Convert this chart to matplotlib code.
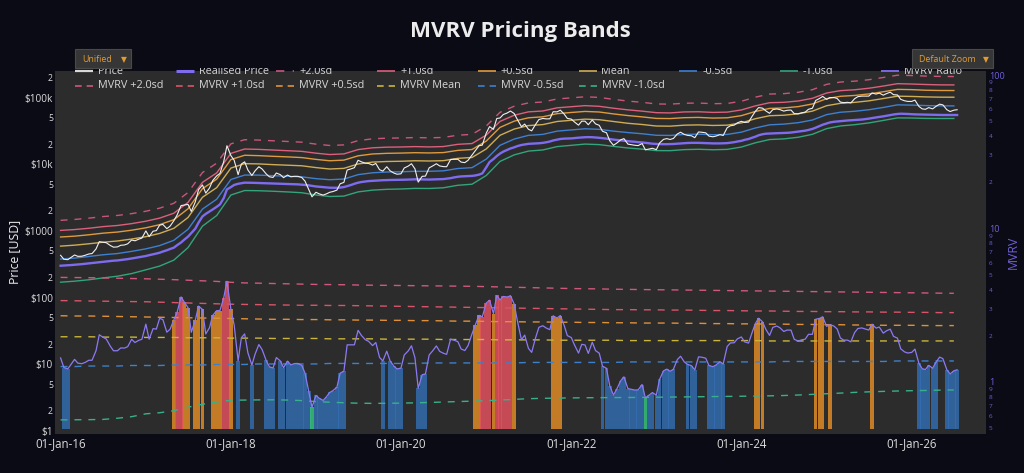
import numpy as np
import pandas as pd
import matplotlib
matplotlib.use('Agg')
import matplotlib.pyplot as plt
import matplotlib.dates as mdates
from matplotlib.ticker import NullLocator
from matplotlib.patches import Rectangle

plt.rcParams['font.family'] = ['Open Sans', 'DejaVu Sans']

# ---------------- data ----------------
# semi-monthly samples (1st and 15th of each month)
dates = pd.date_range('2016-01-01', '2026-07-15', freq='SMS')

price = [
    430, 375, 370, 400, 435, 415, 417, 430, 450, 457, 535, 690, 675, 665, 605, 570, 575, 608, 615, 640, 730, 710, 750, 780,
    1000, 820, 990, 1010, 1220, 1250, 1080, 1180, 1420, 1730, 2400, 2450, 2500, 1960, 2720, 4150, 4900, 3700, 4400, 5700, 6700, 7300, 10900, 19000,
    13500, 11500, 7000, 10100, 10900, 8200, 6800, 8000, 9200, 8500, 7200, 6500, 6350, 7400, 7000, 6300, 6900, 6500, 6600, 6600, 6350, 5600, 4200, 3250,
    3800, 3600, 3450, 3600, 3800, 3900, 4100, 5100, 5350, 8200, 8550, 8900, 11500, 10900, 10400, 10300, 9750, 10300, 8300, 7900, 9200, 8000, 7400, 7100,
    7200, 8800, 9400, 10200, 8550, 5400, 6600, 6650, 8850, 9400, 10200, 9450, 9230, 9200, 11800, 11900, 11900, 10800, 10600, 11500, 13800, 16000, 19000, 19400,
    29400, 36800, 33500, 48700, 49600, 55900, 59000, 63100, 57800, 46700, 36700, 40200, 33600, 31800, 39900, 47000, 48800, 48100, 48200, 61500, 61300, 65000, 57000, 48900,
    47700, 43100, 38700, 44500, 44400, 39300, 46300, 40500, 38500, 31300, 29800, 22600, 19300, 20800, 23300, 24300, 20100, 19700, 19300, 19100, 20500, 16500, 17000, 17400,
    16600, 20900, 23700, 24300, 23600, 24400, 28500, 30300, 28100, 27200, 26800, 25100, 30600, 30300, 29700, 26500, 25900, 26600, 27900, 27100, 35400, 37900, 38700, 42000,
    44200, 42500, 43000, 51900, 62400, 71000, 69700, 63400, 58300, 66200, 67800, 66200, 62900, 64700, 65300, 57600, 57300, 59200, 60800, 67000, 69500, 91000, 97200, 104500,
    94400, 100500, 100600, 97500, 86000, 84300, 85200, 83600, 96500, 103700, 105700, 105600, 105700, 117800, 113300, 117400, 109200, 115300, 121000, 111000, 110000, 94500, 90000, 88000,
    88000, 92000, 74000, 68000, 67000, 71000, 68000, 74000, 80000, 78000, 66000, 62000, 65000, 66000,
]

realised = [
    300, 302, 304, 307, 310, 313, 317, 321, 325, 330, 335, 340, 345, 349, 353, 357, 360, 365, 370, 377, 385, 393, 402, 411,
    420, 432, 445, 457, 470, 490, 512, 535, 560, 610, 670, 740, 820, 930, 1080, 1330, 1650, 1800, 1950, 2100, 2300, 2500, 3100, 4200,
    4550, 4900, 5100, 5200, 5300, 5300, 5280, 5260, 5250, 5230, 5200, 5180, 5150, 5130, 5110, 5090, 5050, 5030, 5010, 5000, 4950, 4900, 4830, 4750,
    4650, 4600, 4550, 4500, 4450, 4440, 4440, 4470, 4550, 4700, 4900, 5100, 5300, 5420, 5520, 5600, 5650, 5700, 5740, 5770, 5800, 5820, 5830, 5840,
    5850, 5870, 5900, 5930, 5950, 5940, 5920, 5900, 5900, 5920, 5940, 5970, 6000, 6080, 6200, 6350, 6500, 6580, 6620, 6660, 6700, 6800, 7000, 7300,
    9000, 10800, 12000, 13300, 14500, 15500, 16500, 17300, 18000, 18800, 19500, 19900, 20300, 20400, 20500, 20700, 21000, 21400, 22000, 22800, 23500, 24000, 24300, 24400,
    24500, 24800, 25100, 25300, 25500, 25600, 25500, 25300, 25000, 24700, 24300, 23900, 23500, 23200, 22900, 22500, 22200, 22000, 21800, 21500, 21300, 21000, 20700, 20400,
    20200, 20100, 20050, 20050, 20100, 20200, 20400, 20600, 20800, 20900, 21000, 21000, 21000, 20900, 20800, 20700, 20600, 20600, 20600, 20700, 20800, 21100, 21500, 22000,
    22500, 23300, 24000, 25000, 26000, 27300, 28300, 28800, 29000, 29200, 29300, 29400, 29500, 29700, 30000, 30400, 31000, 31500, 32000, 32800, 34000, 35500, 37500, 39300,
    41000, 42500, 43500, 44000, 44500, 45000, 45500, 45800, 46000, 46500, 47000, 47700, 48500, 49500, 50500, 51500, 52500, 53500, 54800, 56000, 57000, 57500, 57300, 57000,
    56500, 56200, 56000, 55800, 55600, 55400, 55300, 55200, 55100, 55000, 55000, 55000, 55000, 55000,
]

# highlighted MVRV zone per sample: b = below -0.5sd, g = below -1.0sd, o = above +0.5sd, r = above +1.0sd
zones = ('.bb.....................'
         '........orroo.ooo..ooorr'
         'o.b...b...bbb.bbbbbbbbbg'
         'bbbbbbbbb..........b.bbb'
         'b....bbb.............oor'
         'rrorrrrro..........ooo..'
         '.........bbbbbbbbbbbbgbb'
         'bbbbbb...bbb...bbbbb....'
         '....ooo..............ooo'
         '.o...........o..........'
         '..bbbbbb..bbbb')

# MVRV band levels, every second month (Jan, Mar, May, Jul, Sep, Nov)
lvl_p20 = [4.80, 4.79, 4.78, 4.76, 4.74, 4.72, 4.70, 4.67, 4.64, 4.60, 4.56, 4.52,
           4.46, 4.42, 4.40, 4.38, 4.36, 4.34, 4.32, 4.31, 4.30, 4.28, 4.27, 4.26,
           4.25, 4.24, 4.23, 4.22, 4.21, 4.20, 4.18, 4.16, 4.14, 4.12, 4.10, 4.08,
           4.06, 4.05, 4.04, 4.02, 4.01, 4.00, 3.99, 3.98, 3.97, 3.96, 3.95, 3.94,
           3.93, 3.92, 3.91, 3.90, 3.89, 3.88, 3.87, 3.86, 3.85, 3.84, 3.83, 3.82,
           3.81, 3.80, 3.79, 3.78]
lvl_p10 = [3.39, 3.38, 3.37, 3.36, 3.35, 3.34, 3.33, 3.31, 3.29, 3.27, 3.25, 3.23,
           3.21, 3.20, 3.19, 3.18, 3.17, 3.16, 3.16, 3.15, 3.15, 3.14, 3.13, 3.12,
           3.11, 3.10, 3.09, 3.08, 3.07, 3.06, 3.05, 3.04, 3.03, 3.02, 3.01, 3.00,
           2.99, 2.98, 2.97, 2.96, 2.96, 2.95, 2.95, 2.94, 2.94, 2.93, 2.92, 2.92,
           2.91, 2.90, 2.90, 2.89, 2.88, 2.88, 2.87, 2.87, 2.86, 2.86, 2.85, 2.85,
           2.84, 2.84, 2.83, 2.83]
lvl_p05 = [2.70, 2.69, 2.69, 2.68, 2.67, 2.66, 2.65, 2.64, 2.63, 2.62, 2.61, 2.60,
           2.59, 2.58, 2.57, 2.56, 2.56, 2.55, 2.55, 2.54, 2.54, 2.53, 2.53, 2.52,
           2.52, 2.51, 2.51, 2.50, 2.49, 2.49, 2.48, 2.47, 2.47, 2.46, 2.46, 2.45,
           2.45, 2.44, 2.44, 2.43, 2.43, 2.42, 2.42, 2.42, 2.41, 2.41, 2.40, 2.40,
           2.39, 2.39, 2.38, 2.38, 2.37, 2.37, 2.36, 2.36, 2.35, 2.35, 2.34, 2.34,
           2.34, 2.33, 2.33, 2.33]
lvl_mean = [1.97, 1.97, 1.97, 1.96, 1.96, 1.96, 1.95, 1.95, 1.95, 1.94, 1.94, 1.94,
            1.93, 1.93, 1.93, 1.92, 1.92, 1.92, 1.92, 1.91, 1.91, 1.91, 1.91, 1.90,
            1.90, 1.90, 1.90, 1.89, 1.89, 1.89, 1.89, 1.88, 1.88, 1.88, 1.88, 1.87,
            1.87, 1.87, 1.87, 1.87, 1.86, 1.86, 1.86, 1.86, 1.86, 1.86, 1.86, 1.86,
            1.86, 1.86, 1.85, 1.85, 1.85, 1.85, 1.85, 1.85, 1.85, 1.85, 1.85, 1.85,
            1.85, 1.85, 1.85, 1.85]
lvl_m05 = [1.26, 1.26, 1.27, 1.27, 1.27, 1.28, 1.28, 1.28, 1.29, 1.29, 1.29, 1.30,
           1.30, 1.30, 1.31, 1.31, 1.31, 1.31, 1.31, 1.32, 1.32, 1.32, 1.32, 1.32,
           1.32, 1.32, 1.33, 1.33, 1.33, 1.33, 1.33, 1.33, 1.33, 1.34, 1.34, 1.34,
           1.34, 1.34, 1.34, 1.34, 1.35, 1.35, 1.35, 1.35, 1.35, 1.35, 1.35, 1.35,
           1.35, 1.35, 1.35, 1.36, 1.36, 1.36, 1.36, 1.36, 1.36, 1.36, 1.36, 1.37,
           1.37, 1.37, 1.37, 1.37]
lvl_m10 = [0.566, 0.567, 0.568, 0.570, 0.580, 0.594, 0.620, 0.630, 0.650, 0.685, 0.715, 0.740,
           0.760, 0.762, 0.764, 0.765, 0.762, 0.756, 0.745, 0.738, 0.732, 0.727, 0.725, 0.726,
           0.728, 0.731, 0.735, 0.740, 0.745, 0.750, 0.755, 0.762, 0.770, 0.778, 0.782, 0.785,
           0.787, 0.789, 0.790, 0.791, 0.792, 0.793, 0.795, 0.797, 0.799, 0.801, 0.803, 0.805,
           0.807, 0.809, 0.812, 0.816, 0.822, 0.830, 0.838, 0.846, 0.855, 0.862, 0.868, 0.873,
           0.877, 0.880, 0.884, 0.887]

left_ticks = [1, 2, 5, 10, 20, 50, 100, 200, 500, 1000, 2000, 5000, 1e4, 2e4, 5e4, 1e5, 2e5]
left_labels = ['$1', '2', '5', '$10', '2', '5', '$100', '2', '5', '$1000', '2', '5',
               '$10k', '2', '5', '$100k', '2']
right_ticks = [0.5, 0.6, 0.7, 0.8, 0.9, 1, 2, 3, 4, 5, 6, 7, 8, 9,
               10, 20, 30, 40, 50, 60, 70, 80, 90, 100]
right_labels = ['5', '6', '7', '8', '9', '1', '2', '3', '4', '5', '6', '7', '8', '9',
                '10', '2', '3', '4', '5', '6', '7', '8', '9', '100']

price = np.array(price, float)
realised = np.array(realised, float)
mvrv = price / realised
zones = np.array(list(zones))
assert len(price) == len(realised) == len(zones) == len(dates)
bdates = dates[::4]
breal = realised[::4]

# ---------------- style ----------------
BG = '#0b0b15'
PLOT_BG = '#2c2c2c'
TXT = '#dcdcdc'
PURPLE = '#7d6cf0'
AXIS_PURPLE = '#6e5fd8'

band_style = [
    ('+2.0sd', lvl_p20, '#c9557a', (0, (5, 5))),
    ('+1.0sd', lvl_p10, '#dc5f7c', '-'),
    ('+0.5sd', lvl_p05, '#e09a3e', '-'),
    ('Mean', lvl_mean, '#cfad55', '-'),
    ('-0.5sd', lvl_m05, '#3f7fd0', '-'),
    ('-1.0sd', lvl_m10, '#33a47c', '-'),
]
mvrv_style = [
    ('MVRV +2.0sd', lvl_p20, '#d0587c'),
    ('MVRV +1.0sd', lvl_p10, '#d9546a'),
    ('MVRV +0.5sd', lvl_p05, '#e0903a'),
    ('MVRV Mean', lvl_mean, '#c9b53c'),
    ('MVRV -0.5sd', lvl_m05, '#3d80cc'),
    ('MVRV -1.0sd', lvl_m10, '#38b08a'),
]
zone_colors = {'b': ('#336fb5', 0.8), 'g': ('#35c27a', 0.85),
               'o': ('#e08a26', 0.85), 'r': ('#e0505e', 0.85)}

fig = plt.figure(figsize=(10.24, 4.73), dpi=100)
fig.patch.set_facecolor(BG)

W, H = 1024.0, 473.0
x0, x1, ytop, ybot = 55, 986, 71, 434
ax = fig.add_axes([x0 / W, 1 - ybot / H, (x1 - x0) / W, (ybot - ytop) / H])
ax.set_facecolor(PLOT_BG)
ax.set_yscale('log')
ax.set_ylim(0.892, 251800)

# pricing bands (left axis)
for name, lvl, col, ls in band_style:
    ax.plot(bdates, breal * np.array(lvl), color=col, lw=1.0, ls=ls, zorder=2)
ax.plot(dates, realised, color=PURPLE, lw=1.7, zorder=3)
ax.plot(dates, price, color='#f0f0f0', lw=0.8, zorder=4)

# MVRV panel (right axis)
ax2 = ax.twinx()
ax2.set_yscale('log')
ax2.set_ylim(0.458, 106.2)
base = 0.49
for code, (col, a) in zone_colors.items():
    m = zones == code
    ax2.bar(dates[m], mvrv[m] - base, bottom=base, width=15.5, color=col,
            alpha=a, lw=0, zorder=1)
for name, lvl, col in mvrv_style:
    ax2.plot(bdates, lvl, color=col, lw=1.0, ls=(0, (5, 5)), zorder=2)
ax2.plot(dates, mvrv, color='#8c7af5', lw=0.9, zorder=4)

ax.set_xlim(pd.Timestamp('2015-12-08'), pd.Timestamp('2026-11-16'))
ax.xaxis.set_major_locator(mdates.YearLocator(2))
ax.xaxis.set_major_formatter(mdates.DateFormatter('%d-%b-%y'))

ax.set_yticks(left_ticks, left_labels)
ax2.set_yticks(right_ticks, right_labels)
for a in (ax, ax2):
    a.yaxis.set_minor_locator(NullLocator())
    for s in a.spines.values():
        s.set_visible(False)
ax.tick_params(axis='x', colors=TXT, labelsize=8.3, length=0, pad=2.5)
ax.tick_params(axis='y', colors=TXT, labelsize=7.2, length=0, pad=1.5)
ax2.tick_params(axis='y', colors=AXIS_PURPLE, labelsize=6.6, length=0, pad=2)
for t in ax.get_yticklabels():
    if not t.get_text().startswith('$'):
        t.set_fontsize(6.2)
for t in ax2.get_yticklabels():
    if t.get_text() not in ('1', '10', '100'):
        t.set_fontsize(4.6)

fig.text(15 / W, 1 - 252 / H, 'Price [USD]', rotation=90, ha='center', va='center',
         fontsize=8.8, color='#f0f0f0')
fig.text(1013 / W, 1 - 252 / H, 'MVRV', rotation=90, ha='center', va='center',
         fontsize=8.8, color=AXIS_PURPLE)

# overlay: legend, buttons, title (pixel coordinates)
ov = fig.add_axes([0, 0, 1, 1], zorder=10)
ov.set_xlim(0, W)
ov.set_ylim(H, 0)
ov.axis('off')
ov.patch.set_alpha(0)

row1 = [('Price', '#d8d8d8', '-', 1.6), ('Realised Price', PURPLE, '-', 2.2)]
row1 += [(n, c, ls, 1.2) for n, l, c, ls in band_style]
row1 += [('MVRV Ratio', '#7a68e0', '-', 1.4)]
row2 = [(n, c, (0, (4, 3)), 1.2) for n, l, c in mvrv_style]
for y, row in ((71.5, row1), (86, row2)):
    for i, (lab, col, ls, lw) in enumerate(row):
        lx = 75 + 100.7 * i
        ov.plot([lx, lx + 18], [y, y], color=col, lw=lw, ls=ls, zorder=2,
                solid_capstyle='butt')
        ov.text(lx + 23, y, lab, va='center', ha='left', fontsize=7.8,
                color='#d6d6d6', zorder=2)

# the top legend row is cut off by the page background
ov.add_patch(Rectangle((0, 0), W, 68.5, facecolor=BG, edgecolor='none', zorder=3))

for bx, bw, lab in ((75, 56, 'Unified'), (912, 81, 'Default Zoom')):
    ov.add_patch(Rectangle((bx, 49.5), bw, 19, facecolor='#363636',
                           edgecolor='#4a4a4a', lw=0.8, zorder=5))
    ov.text(bx + 7, 59, lab, va='center', ha='left', fontsize=6.4,
            color='#e39a2f', zorder=6)
    ov.text(bx + bw - 7, 59.5, '▼', va='center', ha='center', fontsize=5.5,
            color='#e39a2f', zorder=6, family=['DejaVu Sans'])

ov.text(520.5, 31, 'MVRV Pricing Bands', ha='center', va='center', fontsize=16,
        fontweight='bold', color='#ececec', zorder=6)

fig.savefig('out.png', dpi=100, facecolor=BG)
